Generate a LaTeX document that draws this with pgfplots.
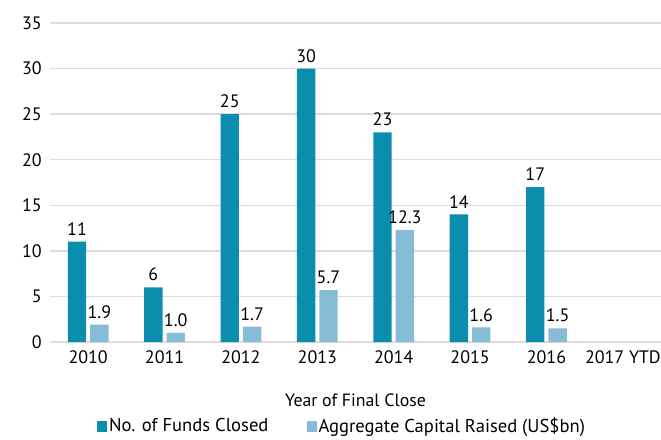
\documentclass[border=0pt]{standalone}
\usepackage{pgfplots}
\pgfplotsset{compat=1.18}
\usepackage{fontspec}
\setmainfont{PT Sans}
\definecolor{darkb}{HTML}{0B8DAE}
\definecolor{lightb}{HTML}{86BCD5}
\definecolor{gridc}{HTML}{DCDCDC}
\begin{document}
\fontsize{18}{22}\selectfont
\begin{tikzpicture}
\begin{axis}[
  at={(0,0)}, anchor=south west,
  scale only axis, width=611pt, height=319pt,
  xmin=-0.5, xmax=7.5, ymin=0, ymax=35,
  ybar=4pt, bar width=0.24,
  ytick={0,5,...,35},
  xtick={0,...,7},
  xticklabels={2010,2011,2012,2013,2014,2015,2016,2017 YTD},
  axis line style={draw=none},
  major tick length=0pt,
  ymajorgrids, grid style={gridc, line width=1.3pt},
  /pgf/number format/assume math mode=true,
  tick label style={font=\fontsize{18}{22}\selectfont},
  yticklabel style={xshift=-2pt},
  xticklabel style={yshift=-2pt},
  xlabel={Year of Final Close},
  xlabel style={font=\fontsize{17.8}{20}\selectfont, at={(0.5,0)}, anchor=center, yshift=-58pt},
  nodes near coords,
  nodes near coords style={font=\fontsize{18}{22}\selectfont, text=black},
  legend style={at={(0.478,0)}, anchor=center, yshift=-84pt, draw=none, legend columns=2,
    font=\fontsize{18.6}{22}\selectfont, /tikz/every even column/.append style={column sep=36pt}},
  legend image code/.code={\fill[#1] (0pt,-5.5pt) rectangle (10pt,5.5pt);},
]
\addplot[fill=darkb, draw=none, point meta=explicit symbolic] table[meta=l] {
x y l
0 11 11
1 6 6
2 25 25
3 30 30
4 23 23
5 14 14
6 17 17
};
\addlegendentry{No. of Funds Closed}
\addplot[fill=lightb, draw=none, point meta=explicit symbolic] table[meta=l] {
x y l
0 1.9 1.9
1 1.0 1.0
2 1.7 1.7
3 5.7 5.7
4 12.3 12.3
5 1.6 1.6
6 1.5 1.5
};
\addlegendentry{Aggregate Capital Raised (US\$bn)}
\end{axis}
\pgfresetboundingbox
\useasboundingbox (-50pt,-97pt) rectangle (611pt,342pt);
\end{tikzpicture}
\end{document}
